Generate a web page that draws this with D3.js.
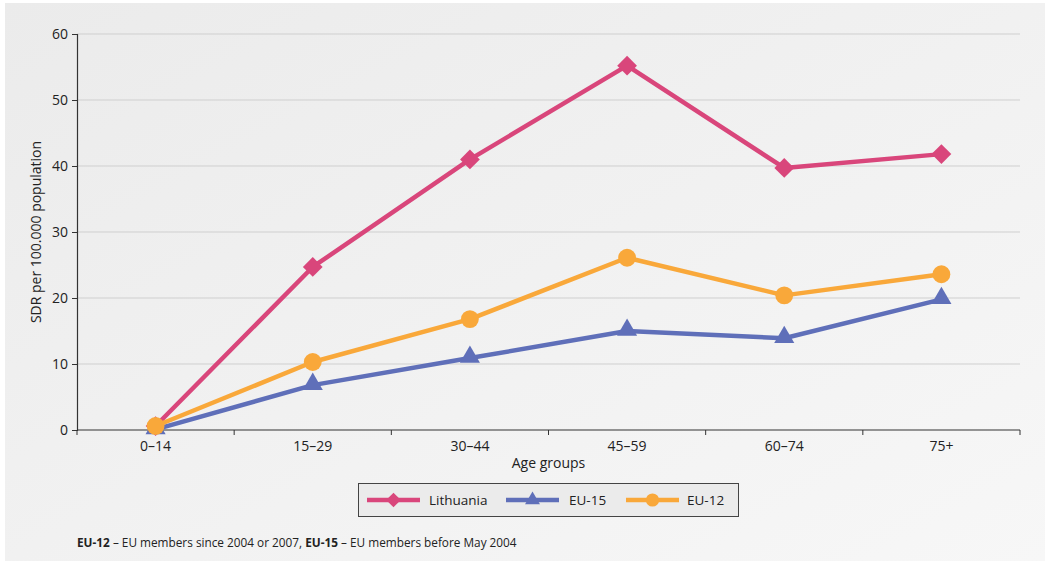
<!DOCTYPE html>
<html>
<head>
<meta charset="utf-8">
<script src="https://cdn.jsdelivr.net/npm/d3@7/dist/d3.min.js"></script>
<style>
  html, body { margin: 0; padding: 0; background: #ffffff; }
  svg { display: block; font-family: "Open Sans", "Noto Sans", sans-serif; }
</style>
</head>
<body>
<svg id="chart" width="1047" height="563"></svg>
<script>
// Age groups on the x axis
const categories = ["0–14", "15–29", "30–44", "45–59", "60–74", "75+"];
// Standardised death rate per 100 000 population
const lithuania = [0.6, 24.7, 41.0, 55.2, 39.7, 41.8];
const eu15 = [0.1, 6.8, 10.9, 15.0, 13.9, 19.8];
const eu12 = [0.6, 10.3, 16.8, 26.1, 20.4, 23.6];
const yTicks = [0, 10, 20, 30, 40, 50, 60];

const seriesNames = ["Lithuania", "EU-15", "EU-12"];
const seriesValues = [lithuania, eu15, eu12];
const seriesColors = ["#d9467b", "#5f6fb9", "#f9a83a"];
// square rotated 45° gives a regular diamond
const seriesSymbols = [d3.symbolSquare, d3.symbolTriangle, d3.symbolCircle];
const symbolRotate = [45, 0, 0];
const symbolSizes = [195, 175, 250];

const svg = d3.select("#chart");

// Panel background with soft gradient
const defs = svg.append("defs");
const grad = defs.append("linearGradient")
  .attr("id", "panelGrad")
  .attr("x1", "0").attr("y1", "0").attr("x2", "1").attr("y2", "1");
grad.append("stop").attr("offset", "0").attr("stop-color", "#ebebeb");
grad.append("stop").attr("offset", "1").attr("stop-color", "#f7f7f7");
svg.append("rect")
  .attr("x", 5).attr("y", 3).attr("width", 1040).attr("height", 558)
  .attr("fill", "url(#panelGrad)");

const margin = { left: 77, right: 1020, top: 34, bottom: 430 };

const x = d3.scaleBand()
  .domain(categories)
  .range([margin.left, margin.right])
  .padding(0);
const y = d3.scaleLinear()
  .domain([0, 60])
  .range([margin.bottom, margin.top]);

// Horizontal gridlines
svg.append("g")
  .selectAll("line")
  .data(yTicks.filter(d => d > 0))
  .join("line")
  .attr("x1", margin.left).attr("x2", margin.right)
  .attr("y1", d => y(d)).attr("y2", d => y(d))
  .attr("stroke", "#cfcfcf").attr("stroke-width", 1);

// Y axis
const yAxis = svg.append("g")
  .attr("transform", `translate(${margin.left},0)`)
  .call(d3.axisLeft(y).tickValues(yTicks).tickSize(5).tickPadding(4));
yAxis.select(".domain").attr("stroke", "#333").attr("stroke-width", 1.2);
yAxis.selectAll(".tick line").attr("stroke", "#333");
yAxis.selectAll(".tick text")
  .attr("font-size", 14).attr("fill", "#222")
  .attr("font-family", "'Open Sans', sans-serif");

// X axis: ticks at category boundaries, labels centred
const xAxisG = svg.append("g")
  .attr("transform", `translate(0,${margin.bottom})`);
xAxisG.append("line")
  .attr("x1", margin.left).attr("x2", margin.right)
  .attr("stroke", "#333").attr("stroke-width", 1.2);
const boundaries = categories.map(c => x(c) + x.bandwidth()).concat([x(categories[0])]);
xAxisG.selectAll("line.tk")
  .data(boundaries)
  .join("line")
  .attr("class", "tk")
  .attr("x1", d => d).attr("x2", d => d)
  .attr("y1", 0).attr("y2", 5)
  .attr("stroke", "#333");
xAxisG.selectAll("text")
  .data(categories)
  .join("text")
  .attr("x", d => x(d) + x.bandwidth() / 2)
  .attr("y", 21)
  .attr("text-anchor", "middle")
  .attr("font-size", 14).attr("fill", "#222")
  .text(d => d);

// Axis titles
svg.append("text")
  .attr("x", (margin.left + margin.right) / 2).attr("y", 468)
  .attr("text-anchor", "middle")
  .attr("font-size", 14).attr("fill", "#222")
  .text("Age groups");
svg.append("text")
  .attr("transform", `translate(41,${(margin.top + margin.bottom) / 2}) rotate(-90)`)
  .attr("text-anchor", "middle")
  .attr("font-size", 14).attr("fill", "#222")
  .text("SDR per 100.000 population");

// Series lines and markers
const line = d3.line()
  .x((d, i) => x(categories[i]) + x.bandwidth() / 2)
  .y(d => y(d));

seriesValues.forEach((vals, s) => {
  const g = svg.append("g");
  g.append("path")
    .datum(vals)
    .attr("d", line)
    .attr("fill", "none")
    .attr("stroke", seriesColors[s])
    .attr("stroke-width", 4.5)
    .attr("stroke-linejoin", "round");
  g.selectAll("path.sym")
    .data(vals)
    .join("path")
    .attr("class", "sym")
    .attr("transform", (d, i) => {
      const dy = seriesSymbols[s] === d3.symbolTriangle ? -1 : 0;
      return `translate(${x(categories[i]) + x.bandwidth() / 2},${y(d) + dy}) rotate(${symbolRotate[s]})`;
    })
    .attr("d", d3.symbol().type(seriesSymbols[s]).size(symbolSizes[s]))
    .attr("fill", seriesColors[s]);
});

// Legend
const legend = svg.append("g");
legend.append("rect")
  .attr("x", 358.5).attr("y", 483.5).attr("width", 380).attr("height", 33)
  .attr("fill", "#ebebeb").attr("stroke", "#444").attr("stroke-width", 1);
const legendItems = [
  { lx: 367, tx: 429 },
  { lx: 506, tx: 569 },
  { lx: 626, tx: 687 }
];
seriesNames.forEach((name, s) => {
  const it = legendItems[s];
  const cy = 500;
  legend.append("line")
    .attr("x1", it.lx).attr("x2", it.lx + 53)
    .attr("y1", cy).attr("y2", cy)
    .attr("stroke", seriesColors[s]).attr("stroke-width", 4.5);
  legend.append("path")
    .attr("transform", `translate(${it.lx + 26.5},${cy}) rotate(${symbolRotate[s]})`)
    .attr("d", d3.symbol().type(seriesSymbols[s]).size(symbolSizes[s] * 0.55))
    .attr("fill", seriesColors[s]);
  legend.append("text")
    .attr("x", it.tx).attr("y", cy + 5)
    .attr("font-size", 13.5).attr("fill", "#222")
    .text(name);
});

// Footnote
const note = svg.append("text")
  .attr("x", 77).attr("y", 547)
  .attr("font-size", 11.8).attr("fill", "#222");
note.append("tspan").attr("font-weight", "bold").text("EU-12");
note.append("tspan").text(" – EU members since 2004 or 2007, ");
note.append("tspan").attr("font-weight", "bold").text("EU-15");
note.append("tspan").text(" – EU members before May 2004");
</script>
</body>
</html>
